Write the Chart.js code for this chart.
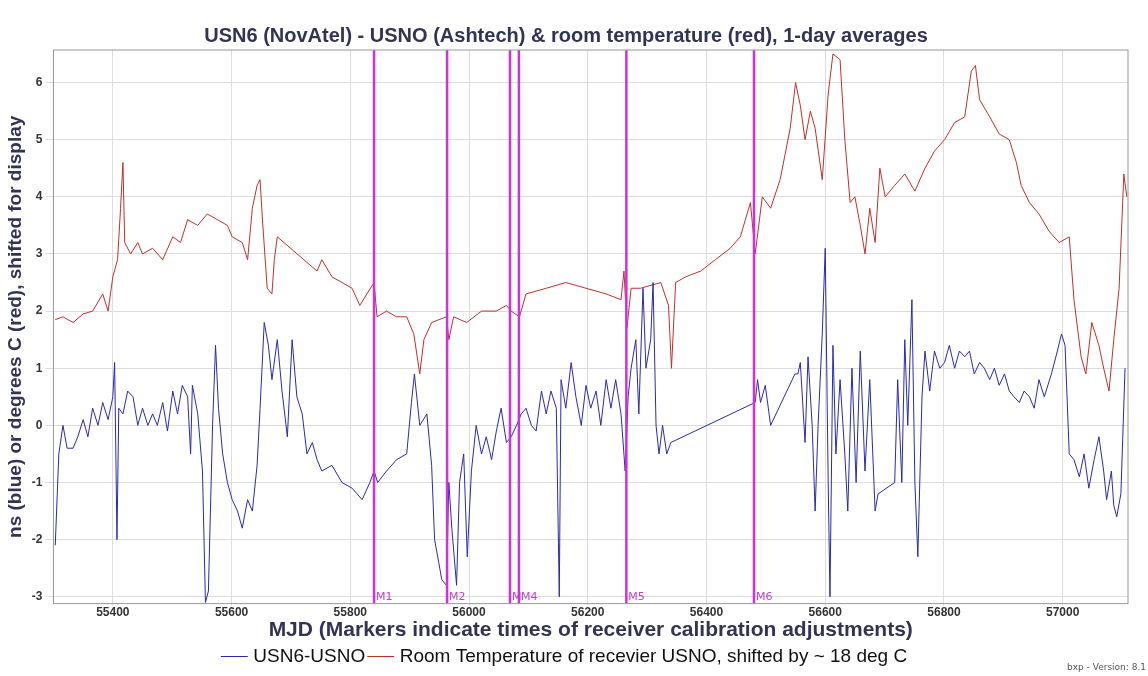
<!DOCTYPE html>
<html>
<head>
<meta charset="utf-8">
<script src="https://cdn.jsdelivr.net/npm/chart.js@4"></script>
<style>
  body { margin: 0; background: #fff; }
  #wrap { width: 1148px; height: 676px; position: relative; }
  #ver { position: absolute; right: 2px; bottom: 4px; font: 9px "DejaVu Sans"; color: #555; }
</style>
</head>
<body>
<div id="wrap"><canvas id="chart" width="1148" height="676"></canvas><div id="ver">bxp - Version: 8.1</div></div>
<script>
// MJD / value pairs
const blueMjd = [55303,55309,55316,55323,55333,55341,55350,55358,55366,55375,55383,55392,55400,55403,55407,55410,55417,55425,55434,55442,55450,55459,55467,55475,55484,55492,55501,55509,55517,55526,55531,55534,55543,55551,55556,55561,55568,55573,55578,55585,55593,55601,55610,55618,55627,55635,55643,55648,55655,55662,55668,55677,55685,55694,55702,55710,55719,55727,55736,55744,55752,55769,55786,55803,55820,55833,55840,55846,55861,55878,55895,55903,55908,55917,55929,55937,55942,55949,55954,55962,55966,55971,55979,55984,55991,55997,56004,56012,56021,56029,56038,56046,56054,56063,56071,56080,56088,56096,56105,56113,56122,56130,56138,56147,56152,56155,56163,56172,56180,56189,56197,56205,56214,56222,56231,56239,56247,56256,56263,56268,56273,56281,56286,56293,56298,56306,56310,56315,56320,56326,56333,56340,56482,56486,56491,56499,56508,56549,56554,56558,56566,56571,56578,56583,56588,56595,56600,56605,56608,56613,56618,56625,56633,56638,56645,56652,56659,56667,56675,56684,56689,56717,56722,56729,56734,56739,56746,56751,56756,56763,56768,56776,56784,56793,56801,56809,56818,56826,56835,56843,56851,56860,56868,56877,56885,56893,56902,56910,56918,56927,56935,56944,56952,56960,56969,56981,56991,56998,57004,57011,57019,57028,57036,57044,57053,57061,57069,57074,57082,57086,57091,57098,57105];
const blueVal = [-2.1,-0.5,0.0,-0.4,-0.4,-0.2,0.1,-0.2,0.3,0.0,0.4,0.1,0.5,1.1,-2.0,0.3,0.2,0.6,0.5,0.0,0.3,0.0,0.2,0.0,0.4,-0.1,0.6,0.2,0.7,0.5,-0.5,0.7,0.2,-0.8,-3.1,-2.9,0.0,1.4,0.3,-0.5,-1.0,-1.3,-1.5,-1.8,-1.3,-1.5,-0.7,0.3,1.8,1.4,0.8,1.5,0.6,-0.2,1.5,0.5,0.2,-0.5,-0.3,-0.6,-0.8,-0.7,-1.0,-1.1,-1.3,-1.0,-0.8,-1.0,-0.8,-0.6,-0.5,0.4,0.9,0.0,0.2,-0.7,-2.0,-2.4,-2.7,-2.8,-1.0,-1.8,-2.8,-1.0,-0.5,-2.3,-0.8,0.0,-0.5,-0.2,-0.6,-0.1,0.3,-0.3,-0.2,0.0,0.2,0.3,0.0,-0.1,0.6,0.2,0.6,0.3,-3.0,0.8,0.3,1.1,0.5,0.0,0.7,0.3,0.6,0.0,0.8,0.3,0.8,0.2,-0.8,0.5,1.0,1.5,0.2,2.4,1.0,1.5,2.5,0.0,-0.5,0.0,-0.5,-0.3,0.4,0.8,0.4,0.7,0.0,0.9,0.9,1.1,-0.3,1.2,0.0,-1.5,0.0,1.6,3.1,-1.0,-3.0,1.4,-0.5,0.8,-0.5,-1.5,1.0,-1.0,1.3,-0.8,0.8,-1.5,-1.2,-1.0,0.8,-1.0,1.5,0.0,2.2,-1.0,-2.3,0.5,1.3,0.6,1.3,1.0,1.1,1.4,1.0,1.3,1.2,1.3,0.9,1.1,1.0,0.8,1.0,0.7,0.9,0.6,0.5,0.4,0.6,0.5,0.3,0.8,0.5,0.9,1.3,1.6,1.4,-0.5,-0.6,-0.9,-0.5,-1.1,-0.6,-0.2,-0.8,-1.3,-0.8,-1.4,-1.6,-1.2,1.0];

const redMjd = [55303,55316,55333,55350,55366,55383,55392,55400,55408,55413,55417,55420,55430,55442,55450,55467,55484,55501,55514,55526,55543,55559,55576,55593,55601,55618,55627,55635,55643,55648,55652,55660,55668,55672,55677,55744,55752,55769,55786,55803,55816,55828,55840,55845,55861,55878,55895,55907,55917,55924,55937,55962,55966,55974,55996,56021,56046,56063,56071,56085,56096,56130,56163,56197,56231,56256,56261,56266,56273,56289,56323,56336,56341,56348,56365,56390,56415,56440,56457,56474,56482,56494,56508,56524,56541,56550,56558,56566,56575,56583,56595,56605,56613,56625,56633,56642,56650,56659,56667,56675,56684,56692,56701,56717,56734,56751,56768,56784,56801,56818,56835,56846,56853,56860,56877,56893,56910,56922,56930,56944,56960,56977,56994,57011,57019,57031,57039,57049,57061,57069,57078,57086,57095,57103,57108];
const redVal = [1.85,1.9,1.8,1.95,2.0,2.3,2.0,2.6,2.9,3.8,4.6,3.2,3.0,3.2,3.0,3.1,2.9,3.3,3.2,3.6,3.5,3.7,3.6,3.5,3.3,3.2,2.9,3.8,4.2,4.3,3.6,2.4,2.3,2.9,3.3,2.7,2.9,2.6,2.5,2.4,2.1,2.3,2.5,1.9,2.0,1.9,1.9,1.6,0.9,1.5,1.8,1.9,1.5,1.9,1.8,2.0,2.0,2.1,2.0,1.9,2.3,2.4,2.5,2.4,2.3,2.2,2.7,1.7,2.4,2.4,2.5,2.1,1.0,2.5,2.6,2.7,2.9,3.1,3.3,3.9,3.0,4.0,3.8,4.3,5.2,6.0,5.6,5.0,5.5,5.2,4.3,5.8,6.5,6.4,5.0,3.9,4.0,3.5,3.0,3.8,3.2,4.5,4.0,4.2,4.4,4.1,4.5,4.8,5.0,5.3,5.4,6.2,6.3,5.7,5.4,5.1,5.0,4.6,4.2,3.9,3.7,3.4,3.2,3.3,2.2,1.2,0.9,1.8,1.4,1.0,0.6,1.5,2.4,4.4,4.0];

const markerMjd = [55840, 55963, 56069, 56084, 56265, 56480];
const markerLabels = ['M1', 'M2', 'M', 'M4', 'M5', 'M6'];
const xTicks = [55400, 55600, 55800, 56000, 56200, 56400, 56600, 56800, 57000];
const yTicks = [-3, -2, -1, 0, 1, 2, 3, 4, 5, 6];

const toPts = (xs, ys) => xs.map((x, i) => ({ x: x, y: ys[i] }));

const markerPlugin = {
    id: 'markers',
    afterDatasetsDraw(chart) {
        const ctx = chart.ctx;
        const area = chart.chartArea;
        const xs = chart.scales.x;
        ctx.save();
        markerMjd.forEach((m, i) => {
            const px = xs.getPixelForValue(m);
            ctx.strokeStyle = '#d42ee0';
            ctx.lineWidth = 2.5;
            ctx.beginPath();
            ctx.moveTo(px, area.top);
            ctx.lineTo(px, area.bottom);
            ctx.stroke();
            ctx.fillStyle = '#c040d0';
            ctx.font = '11px "DejaVu Sans"';
            ctx.fillText(markerLabels[i], px + 2, area.bottom - 6);
        });
        ctx.strokeStyle = '#999';
        ctx.lineWidth = 1;
        ctx.strokeRect(area.left, area.top, area.right - area.left, area.bottom - area.top);
        ctx.restore();
    }
};

new Chart(document.getElementById('chart'), {
    type: 'line',
    data: {
        datasets: [
            { label: 'USN6-USNO', data: toPts(blueMjd, blueVal), borderColor: '#2a2ab0', backgroundColor: '#2a2ab0', borderWidth: 1, pointRadius: 0, tension: 0 },
            { label: 'Room Temperature of recevier USNO, shifted by ~ 18 deg C', data: toPts(redMjd, redVal), borderColor: '#c0302a', backgroundColor: '#c0302a', borderWidth: 1, pointRadius: 0, tension: 0 }
        ]
    },
    options: {
        responsive: false,
        animation: false,
        layout: { padding: { left: 4, right: 20, top: 0, bottom: 0 } },
        plugins: {
            title: {
                display: true,
                text: 'USN6 (NovAtel) - USNO (Ashtech) & room temperature (red), 1-day averages',
                color: '#333355',
                font: { family: 'Liberation Sans', size: 20, weight: 'bold' },
                padding: { top: 24, bottom: 2 }
            },
            legend: {
                position: 'bottom',
                labels: {
                    color: '#111', font: { family: 'Liberation Sans', size: 19 },
                    usePointStyle: true, pointStyle: 'line', boxWidth: 20, padding: 6
                }
            },
            tooltip: { enabled: false }
        },
        scales: {
            x: {
                type: 'linear',
                min: 55300,
                max: 57110,
                afterBuildTicks: s => { s.ticks = xTicks.map(v => ({ value: v })); },
                ticks: { color: '#333', font: { family: 'Liberation Sans', size: 12, weight: 'bold' }, maxRotation: 0, padding: 0, callback: v => String(v) },
                grid: { color: '#dddddd', tickLength: 2 },
                border: { display: false },
                title: {
                    display: true,
                    text: 'MJD (Markers indicate times of receiver calibration adjustments)',
                    color: '#333355',
                    font: { family: 'Liberation Sans', size: 21, weight: 'bold', lineHeight: 1.0 },
                    padding: { top: 0, bottom: 0 }
                }
            },
            y: {
                min: -3.12,
                max: 6.57,
                afterBuildTicks: s => { s.ticks = yTicks.map(v => ({ value: v })); },
                ticks: { color: '#333', font: { family: 'Liberation Sans', size: 12, weight: 'bold' } },
                grid: { color: '#dddddd' },
                border: { display: false },
                title: {
                    display: true,
                    text: 'ns (blue) or degrees C (red), shifted for display',
                    color: '#333355',
                    font: { family: 'Liberation Sans', size: 19, weight: 'bold' },
                    padding: { top: 0, bottom: 2 }
                }
            }
        }
    },
    plugins: [markerPlugin]
});
</script>
</body>
</html>
